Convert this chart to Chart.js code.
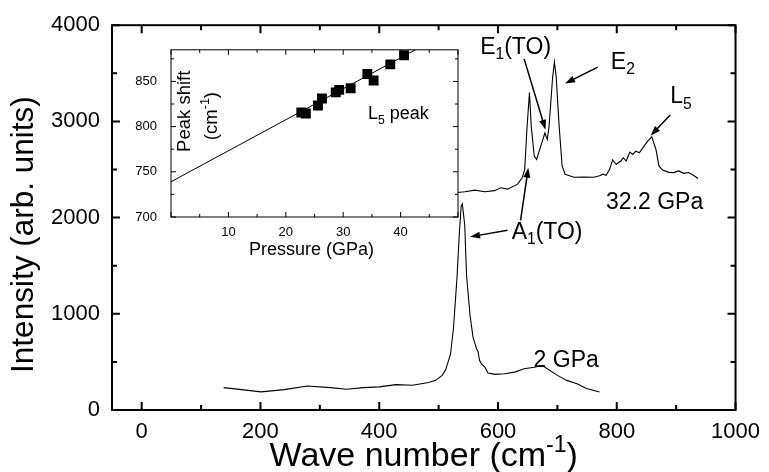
<!DOCTYPE html>
<html>
<head>
<meta charset="utf-8">
<script src="https://cdn.jsdelivr.net/npm/chart.js@4.4.0/dist/chart.umd.min.js"></script>
<style>
  body { margin: 0; background: #fff; }
  #wrap { position: relative; width: 769px; height: 472px; }
  #main { position: absolute; left: 0; top: 0; }
  #inset { position: absolute; left: 118px; top: 28px; }
</style>
</head>
<body>
<div id="wrap">
  <canvas id="main" width="769" height="472"></canvas>
  <canvas id="inset" width="352" height="237"></canvas>
</div>
<script>
// main spectra: wave number (cm-1) vs intensity (arb. units)
const wn2 = [138, 168, 201, 240, 279, 318, 345, 373, 400, 428, 456, 483, 495, 506, 512, 520, 525, 531, 535, 538, 540, 544, 547, 553, 558, 564, 566, 569, 572, 578, 583, 595, 611, 628, 644, 661, 675, 683, 700, 716, 733, 749, 760, 771];
const int2 = [233, 212, 188, 212, 250, 233, 216, 233, 240, 264, 257, 285, 308, 360, 420, 580, 850, 1380, 1850, 2120, 2142, 1920, 1400, 980, 754, 634, 617, 514, 480, 445, 384, 370, 377, 394, 428, 445, 463, 428, 360, 308, 274, 223, 206, 188];

const wn32 = [524, 544, 561, 578, 594, 605, 616, 633, 641, 645, 649, 653, 656, 661, 665, 672, 679, 683, 686, 692, 695, 698, 703, 708, 713, 728, 744, 761, 771, 777, 782, 788, 793, 799, 807, 811, 816, 822, 827, 832, 838, 846, 852, 859, 866, 871, 877, 888, 896, 904, 913, 921, 929, 937];
const int32 = [2255, 2269, 2286, 2269, 2280, 2310, 2296, 2348, 2417, 2502, 2948, 3300, 2948, 2640, 2605, 2743, 2879, 2811, 2948, 3462, 3616, 3462, 2948, 2537, 2451, 2420, 2422, 2420, 2434, 2451, 2440, 2502, 2600, 2554, 2588, 2622, 2588, 2681, 2657, 2691, 2674, 2743, 2794, 2840, 2708, 2537, 2495, 2470, 2468, 2485, 2460, 2468, 2440, 2406];

const xTicks = [0, 200, 400, 600, 800, 1000];
const yTicks = [0, 1000, 2000, 3000, 4000];

// inset: L5 peak position vs pressure
const pressure = [22.7, 23.5, 25.6, 26.3, 28.7, 29.3, 31.3, 34.2, 35.3, 38.2, 40.6];
const peakShift = [815.6, 814.5, 823.4, 831.1, 837.9, 840.7, 842.5, 858.3, 851, 868.9, 879];
const fitP = [0, 50];
const fitShift = [739, 910.5];
const insetXTicks = [10, 20, 30, 40];
const insetYTicks = [700, 750, 800, 850];

const FONT = '"Liberation Sans", Arial, Helvetica, sans-serif';

// labels and arrows placed in data coordinates
const notes = [
  { parts: [['E', 0], ['1', -1], ['(TO)', 0]], x: 570, y: 3702 },
  { parts: [['E', 0], ['2', -1]], x: 790, y: 3548 },
  { parts: [['L', 0], ['5', -1]], x: 890, y: 3188 },
  { parts: [['32.2 GPa', 0]], x: 782, y: 2091 },
  { parts: [['A', 0], ['1', -1], ['(TO)', 0]], x: 623, y: 1782 },
  { parts: [['2 GPa', 0]], x: 660, y: 445 }
];
const arrows = [
  [644, 3650, 680, 2913],
  [768, 3565, 713, 3393],
  [890, 3067, 857, 2852],
  [638, 1971, 651, 2519],
  [616, 1868, 553, 1800]
];

function pts(xs, ys) { return xs.map((v, i) => ({ x: v, y: ys[i] })); }

function richText(ctx, parts, x, y, size, align) {
  const small = size * 0.68;
  let w = 0;
  parts.forEach(([t, k]) => { ctx.font = (k ? small : size) + 'px ' + FONT; w += ctx.measureText(t).width; });
  let cx = align === 'center' ? x - w / 2 : x;
  parts.forEach(([t, k]) => {
    ctx.font = (k ? small : size) + 'px ' + FONT;
    const dy = k === 1 ? -size * 0.42 : (k === -1 ? size * 0.24 : 0);
    ctx.fillText(t, cx, y + dy);
    cx += ctx.measureText(t).width;
  });
}

function arrow(ctx, x1, y1, x2, y2, head) {
  const a = Math.atan2(y2 - y1, x2 - x1);
  const c = Math.cos(a), s = Math.sin(a);
  ctx.beginPath();
  ctx.moveTo(x1, y1);
  ctx.lineTo(x2 - c * head * 0.7, y2 - s * head * 0.7);
  ctx.stroke();
  ctx.beginPath();
  ctx.moveTo(x2, y2);
  ctx.lineTo(x2 - head * c + head * 0.35 * s, y2 - head * s - head * 0.35 * c);
  ctx.lineTo(x2 - head * c - head * 0.35 * s, y2 - head * s + head * 0.35 * c);
  ctx.closePath();
  ctx.fill();
}

// box with inward ticks on all four sides
function drawFrame(chart, o) {
  const { ctx, chartArea: a, scales: { x, y } } = chart;
  ctx.save();
  ctx.strokeStyle = '#000';
  ctx.lineWidth = o.width;
  ctx.strokeRect(a.left, a.top, a.right - a.left, a.bottom - a.top);
  ctx.beginPath();
  for (let v = o.xFrom; v <= x.max + 1e-9; v += o.xMinor) {
    const p = x.getPixelForValue(v);
    const len = Math.abs(v / o.xMajor - Math.round(v / o.xMajor)) < 1e-6 ? o.major : o.minor;
    ctx.moveTo(p, a.bottom); ctx.lineTo(p, a.bottom - len);
    ctx.moveTo(p, a.top); ctx.lineTo(p, a.top + len);
  }
  for (let v = o.yFrom; v <= y.max + 1e-9; v += o.yMinor) {
    const p = y.getPixelForValue(v);
    const len = Math.abs(v / o.yMajor - Math.round(v / o.yMajor)) < 1e-6 ? o.major : o.minor;
    ctx.moveTo(a.left, p); ctx.lineTo(a.left + len, p);
    ctx.moveTo(a.right, p); ctx.lineTo(a.right - len, p);
  }
  ctx.stroke();
  ctx.restore();
}

const mainDecor = {
  id: 'mainDecor',
  afterDatasetsDraw(chart) {
    const { ctx, chartArea: a, scales: { x, y } } = chart;
    drawFrame(chart, { width: 2, xFrom: 0, xMinor: 100, xMajor: 200, yFrom: 0, yMinor: 500, yMajor: 1000, major: 8, minor: 5 });
    ctx.save();
    ctx.fillStyle = '#000';
    ctx.strokeStyle = '#000';
    ctx.lineWidth = 1.5;
    arrows.forEach(r => arrow(ctx, x.getPixelForValue(r[0]), y.getPixelForValue(r[1]),
      x.getPixelForValue(r[2]), y.getPixelForValue(r[3]), 10));
    ctx.textBaseline = 'alphabetic';
    notes.forEach(n => richText(ctx, n.parts, x.getPixelForValue(n.x), y.getPixelForValue(n.y), 23, 'left'));
    // axis titles
    richText(ctx, [['Wave number (cm', 0], ['-1', 1], [')', 0]], (a.left + a.right) / 2, 466, 34, 'center');
    ctx.translate(33, (a.top + a.bottom) / 2 + 17);
    ctx.rotate(-Math.PI / 2);
    richText(ctx, [['Intensity (arb. units)', 0]], 0, 0, 31.5, 'center');
    ctx.restore();
  }
};

const insetDecor = {
  id: 'insetDecor',
  beforeDraw(chart) {
    const { ctx, chartArea: a } = chart;
    ctx.save();
    ctx.fillStyle = '#fff';
    ctx.fillRect(a.left, a.top, a.right - a.left, a.bottom - a.top);
    ctx.restore();
  },
  afterDatasetsDraw(chart) {
    const { ctx, chartArea: a, scales: { x, y } } = chart;
    drawFrame(chart, { width: 1, xFrom: 0, xMinor: 5, xMajor: 10, yFrom: 700, yMinor: 25, yMajor: 50, major: 5, minor: 3 });
    ctx.save();
    ctx.fillStyle = '#000';
    ctx.textBaseline = 'alphabetic';
    richText(ctx, [['L', 0], ['5', -1], [' peak', 0]], x.getPixelForValue(34.3), y.getPixelForValue(808), 18, 'left');
    richText(ctx, [['Pressure (GPa)', 0]], (a.left + a.right) / 2 - 3, a.bottom + 38, 18, 'center');
    ctx.save();
    ctx.translate(x.getPixelForValue(3.25), y.getPixelForValue(817));
    ctx.rotate(-Math.PI / 2);
    richText(ctx, [['Peak shift', 0]], 0, 0, 18.5, 'center');
    ctx.restore();
    ctx.save();
    ctx.translate(x.getPixelForValue(8.0), y.getPixelForValue(811.7));
    ctx.rotate(-Math.PI / 2);
    richText(ctx, [['(cm', 0], ['-1', 1], [')', 0]], 0, 0, 18.5, 'center');
    ctx.restore();
    ctx.restore();
  }
};

const plainNum = v => String(v);

new Chart(document.getElementById('main'), {
  type: 'line',
  data: {
    datasets: [
      { label: '2 GPa', data: pts(wn2, int2), borderColor: '#000', borderWidth: 1.1, pointRadius: 0, tension: 0, fill: false },
      { label: '32.2 GPa', data: pts(wn32, int32), borderColor: '#000', borderWidth: 1.1, pointRadius: 0, tension: 0, fill: false }
    ]
  },
  options: {
    responsive: false,
    animation: false,
    layout: { autoPadding: false, padding: { left: 0, top: 21, right: 25, bottom: 0 } },
    plugins: { legend: { display: false }, tooltip: { enabled: false } },
    scales: {
      x: {
        type: 'linear', min: -50, max: 1000,
        afterBuildTicks: s => { s.ticks = xTicks.map(v => ({ value: v })); },
        afterFit: s => { s.height = 62; },
        grid: { display: false, drawTicks: false },
        border: { display: false },
        ticks: { color: '#000', font: { family: FONT, size: 22 }, padding: 9, autoSkip: false, maxRotation: 0, callback: plainNum }
      },
      y: {
        type: 'linear', min: 0, max: 4000,
        afterBuildTicks: s => { s.ticks = yTicks.map(v => ({ value: v })); },
        afterFit: s => { s.width = 112; },
        grid: { display: false, drawTicks: false },
        border: { display: false },
        ticks: { color: '#000', font: { family: FONT, size: 22 }, padding: 12, autoSkip: false, callback: plainNum }
      }
    }
  },
  plugins: [mainDecor]
});

new Chart(document.getElementById('inset'), {
  type: 'scatter',
  data: {
    datasets: [
      { label: 'fit', type: 'line', data: pts(fitP, fitShift), borderColor: '#000', borderWidth: 1, pointRadius: 0, tension: 0 },
      { label: 'L5 peak', data: pts(pressure, peakShift), backgroundColor: '#000', borderColor: '#000', pointStyle: 'rect', pointRadius: 7, borderWidth: 0 }
    ]
  },
  options: {
    responsive: false,
    animation: false,
    layout: { autoPadding: false, padding: { left: 0, top: 9, right: 12, bottom: 0 } },
    plugins: { legend: { display: false }, tooltip: { enabled: false } },
    scales: {
      x: {
        type: 'linear', min: 0, max: 50,
        afterBuildTicks: s => { s.ticks = insetXTicks.map(v => ({ value: v })); },
        afterFit: s => { s.height = 48; },
        grid: { display: false, drawTicks: false },
        border: { display: false },
        ticks: { color: '#000', font: { family: FONT, size: 13 }, padding: 8, autoSkip: false, maxRotation: 0, callback: plainNum }
      },
      y: {
        type: 'linear', min: 700, max: 885,
        afterBuildTicks: s => { s.ticks = insetYTicks.map(v => ({ value: v })); },
        afterFit: s => { s.width = 53; },
        grid: { display: false, drawTicks: false },
        border: { display: false },
        ticks: { color: '#000', font: { family: FONT, size: 13 }, padding: 14, autoSkip: false, callback: plainNum }
      }
    }
  },
  plugins: [insetDecor]
});
</script>
</body>
</html>
